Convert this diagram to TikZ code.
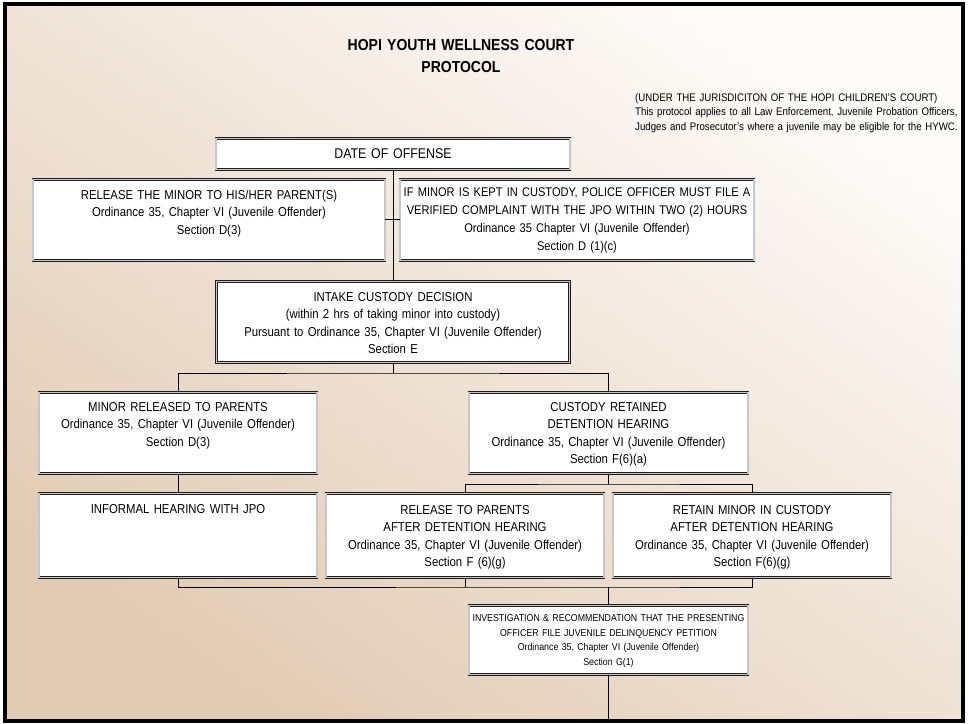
\documentclass[tikz,border=0pt]{standalone}
\usepackage{fontspec}
\setmainfont[FakeStretch=0.88]{Liberation Sans}
\usepackage{xcolor}
\usepackage{tikz}
\usetikzlibrary{positioning}
\definecolor{courttan}{RGB}{226,203,180}
\definecolor{courtlight}{RGB}{253,251,249}
\definecolor{boxedge}{RGB}{30,30,30}

\begin{document}
\begin{tikzpicture}[
    x=1pt, y=-1pt,
    box/.style={rectangle, draw=boxedge, double=gray!45, double distance=1.1pt, line width=0.7pt, fill=white, inner sep=0pt, align=center, anchor=north, text height=20pt, font=\fontsize{12.9}{17.5}\selectfont},
    smallbox/.style={box, text height=16.5pt, font=\fontsize{10}{14.5}\selectfont},
    link/.style={draw=black, line width=0.8pt}
]
    \useasboundingbox (0,0) rectangle (969,723);

    % Background and frame
    \shade[top color=courtlight, bottom color=courttan, shading angle=-35] (5,4) rectangle (963,721);
    \draw[line width=3.5pt] (5,4) rectangle (963,721);

    % Heading
    \node[font=\bfseries\fontsize{15.9}{22}\selectfont, align=center, text width=300pt, text height=11pt, inner sep=0pt, anchor=north] (title) at (461,39) {HOPI YOUTH WELLNESS COURT\\PROTOCOL};
    \node[font=\fontsize{11}{14.5}\selectfont, align=left, text width=333pt, text height=8pt, inner sep=0pt, anchor=north west] (scope) at (635,93) {(UNDER THE JURISDICITON OF THE HOPI CHILDREN'S COURT)\\This protocol applies to all Law Enforcement, Juvenile Probation Officers,\\Judges and Prosecutor's where a juvenile may be eligible for the HYWC.};

    % Offense
    \node[box, text width=354pt, text depth=11pt, font=\fontsize{14.1}{17}\selectfont] (date) at (393,138) {DATE OF OFFENSE};

    % Police
    \node[box, text width=352pt, text depth=61pt] (release) at (209,179) {RELEASE THE MINOR TO HIS/HER PARENT(S)\\Ordinance 35, Chapter VI (Juvenile Offender)\\Section D(3)};
    \node[box, text width=354pt, text height=17pt, text depth=64pt, font=\fontsize{12.6}{18}\selectfont] (kept) at (577,179) {IF MINOR IS KEPT IN CUSTODY, POLICE OFFICER MUST FILE A\\VERIFIED COMPLAINT WITH THE JPO WITHIN TWO (2) HOURS\\Ordinance 35 Chapter VI (Juvenile Offender)\\Section D (1)(c)};

    % Intake
    \node[box, text width=353pt, text depth=61pt] (intake) at (393,281) {INTAKE CUSTODY DECISION\\(within 2 hrs of taking minor into custody)\\Pursuant to Ordinance 35, Chapter VI (Juvenile Offender)\\Section E};

    % Decision
    \node[box, text width=278pt, text height=19pt, text depth=62pt] (released) at (178,392) {MINOR RELEASED TO PARENTS\\Ordinance 35, Chapter VI (Juvenile Offender)\\Section D(3)};
    \node[box, text width=279pt, text height=19pt, text depth=62pt] (retained) at (608.5,392) {CUSTODY RETAINED\\DETENTION HEARING\\Ordinance 35, Chapter VI (Juvenile Offender)\\Section F(6)(a)};

    % Hearings
    \node[box, text width=278pt, text depth=64pt] (informal) at (178,493) {INFORMAL HEARING WITH JPO};
    \node[box, text width=278pt, text height=21pt, text depth=63pt] (after) at (465,493) {RELEASE TO PARENTS\\AFTER DETENTION HEARING\\Ordinance 35, Chapter VI (Juvenile Offender)\\Section F (6)(g)};
    \node[box, text width=278pt, text height=21pt, text depth=63pt] (retain) at (752,493) {RETAIN MINOR IN CUSTODY\\AFTER DETENTION HEARING\\Ordinance 35, Chapter VI (Juvenile Offender)\\Section F(6)(g)};

    % Petition
    \node[smallbox, text width=279pt, text depth=52.5pt] (petition) at (608.5,605) {INVESTIGATION \& RECOMMENDATION THAT THE PRESENTING\\OFFICER FILE JUVENILE DELINQUENCY PETITION\\Ordinance 35, Chapter VI (Juvenile Offender)\\Section G(1)};

    % Junctions
    \coordinate (split) at (393,373);
    \coordinate (hold) at (608.5,484);
    \coordinate (merge) at (608.5,587);
    \coordinate (exit) at (608.5,721);

    % Connectors
    \draw[link] (date.south) -- (intake.north);
    \draw[link] (release.east) -- (kept.west);
    \draw[link] (intake.south) -- (split);
    \draw[link] (released.north) |- (split) -| (retained.north);
    \draw[link] (released) -- (informal);
    \draw[link] (retained.south) -- (hold);
    \draw[link] (after.north) |- (hold) -| (retain.north);
    \draw[link] (informal.south) |- (merge) -| (retain.south);
    \draw[link] (after.south) -- (after.south |- merge);
    \draw[link] (merge) -- (petition.north);
    \draw[link] (petition.south) -- (exit);
\end{tikzpicture}
\end{document}
